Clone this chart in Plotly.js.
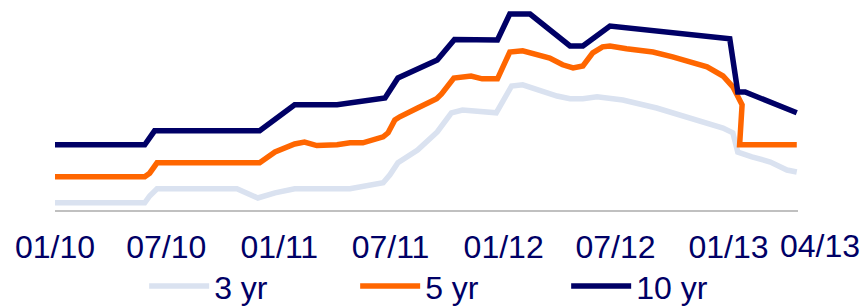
<!DOCTYPE html>
<html>
<head>
<meta charset="utf-8">
<script src="https://cdn.plot.ly/plotly-3.0.1.min.js"></script>
<style>
  html, body { margin: 0; padding: 0; background: #ffffff; }
  #chart { width: 864px; height: 306px; }
</style>
</head>
<body>
<div id="chart"></div>
<script>
// ---- data ----
var dates10 = ["2010-01-01","2010-05-27","2010-06-12","2010-11-30","2011-01-26","2011-04-05","2011-06-22","2011-07-13","2011-09-15","2011-10-13","2011-12-22","2012-01-11","2012-02-13","2012-04-18","2012-05-09","2012-06-22","2013-01-03","2013-01-16","2013-01-28","2013-04-22"];
var yr10   = [1.63,1.63,1.98,1.98,2.63,2.63,2.80,3.30,3.75,4.26,4.25,4.90,4.90,4.10,4.10,4.60,4.28,2.95,2.95,2.43];

var dates5 = ["2010-01-01","2010-05-27","2010-06-04","2010-06-16","2010-11-30","2010-12-25","2011-01-26","2011-02-11","2011-03-03","2011-04-05","2011-04-26","2011-05-17","2011-06-19","2011-06-27","2011-07-08","2011-07-16","2011-08-14","2011-09-14","2011-09-22","2011-10-12","2011-11-09","2011-11-27","2011-12-22","2012-01-11","2012-02-01","2012-02-24","2012-03-16","2012-04-06","2012-04-23","2012-05-09","2012-05-25","2012-06-10","2012-06-22","2012-07-19","2012-08-31","2012-10-02","2012-10-30","2012-11-27","2012-12-23","2013-01-08","2013-01-23","2013-01-19","2013-01-31","2013-04-22"];
var yr5   = [0.83,0.83,0.92,1.18,1.18,1.45,1.65,1.70,1.61,1.63,1.68,1.68,1.83,1.93,2.25,2.33,2.55,2.78,2.90,3.30,3.35,3.28,3.28,3.95,3.98,3.90,3.80,3.63,3.55,3.60,3.93,4.08,4.10,4.03,3.95,3.83,3.70,3.58,3.35,3.08,2.63,1.63,1.63,1.63];

var dates3 = ["2010-01-01","2010-05-27","2010-06-04","2010-06-16","2010-10-24","2010-11-27","2010-12-25","2011-01-26","2011-04-26","2011-06-19","2011-06-30","2011-07-13","2011-08-14","2011-09-15","2011-10-08","2011-10-26","2011-12-20","2012-01-14","2012-02-01","2012-02-29","2012-03-28","2012-04-18","2012-05-09","2012-06-01","2012-07-13","2012-09-06","2012-10-30","2012-12-23","2013-01-08","2013-01-16","2013-02-08","2013-03-10","2013-04-06","2013-04-22"];
var yr3   = [0.18,0.18,0.35,0.53,0.53,0.30,0.43,0.53,0.53,0.68,0.88,1.18,1.50,1.95,2.43,2.50,2.43,3.10,3.13,2.98,2.85,2.78,2.78,2.83,2.75,2.55,2.30,2.05,1.93,1.45,1.33,1.20,1.00,0.95];

var tickDates  = ["2010-01-01","2010-07-01","2011-01-01","2011-07-01","2012-01-01","2012-07-01","2013-01-01"];
var tickLabels = ["01/10","07/10","01/11","07/11","01/12","07/12","01/13"];
var lastTickLabel = "04/13";
var seriesNames = ["3 yr","5 yr","10 yr"];

var FONT = "Liberation Sans, Arial, sans-serif";
var NAVY = "#000066";

var traces = [
  {x: dates3,  y: yr3,  name: seriesNames[0], type: "scatter", mode: "lines",
   line: {color: "#DAE2F0", width: 5.5}},
  {x: dates5,  y: yr5,  name: seriesNames[1], type: "scatter", mode: "lines",
   line: {color: "#FF6600", width: 5.5}},
  {x: dates10, y: yr10, name: seriesNames[2], type: "scatter", mode: "lines",
   line: {color: NAVY, width: 5.5}}
];

var layout = {
  width: 864, height: 306,
  margin: {l: 55, r: 66, t: 0, b: 96, pad: 0, autoexpand: false},
  paper_bgcolor: "#ffffff", plot_bgcolor: "#ffffff",
  showlegend: true,
  legend: {
    orientation: "h", x: 0.12, xanchor: "left", y: -0.232, yanchor: "top",
    font: {family: FONT, size: 32, color: NAVY},
    itemwidth: 60, entrywidth: 136, entrywidthmode: "pixels",
    traceorder: "normal", bgcolor: "rgba(0,0,0,0)"
  },
  xaxis: {
    type: "date",
    range: ["2010-01-01", "2013-04-24"],
    tickvals: tickDates, ticktext: tickLabels,
    showgrid: false, zeroline: false,
    showline: true, linecolor: "#C0C0C0", linewidth: 2,
    ticks: "", ticklabelstandoff: 8,
    tickfont: {family: FONT, size: 32, color: NAVY},
    fixedrange: true
  },
  yaxis: {
    range: [0, 5.25], visible: false, showgrid: false, zeroline: false, fixedrange: true
  },
  annotations: [{
    text: lastTickLabel, xref: "paper", yref: "paper",
    x: (820 - 55) / 743, y: -0.078, xanchor: "center", yanchor: "top",
    showarrow: false, font: {family: FONT, size: 32, color: NAVY}
  }]
};

Plotly.newPlot("chart", traces, layout, {displayModeBar: false, staticPlot: true});
</script>
</body>
</html>
